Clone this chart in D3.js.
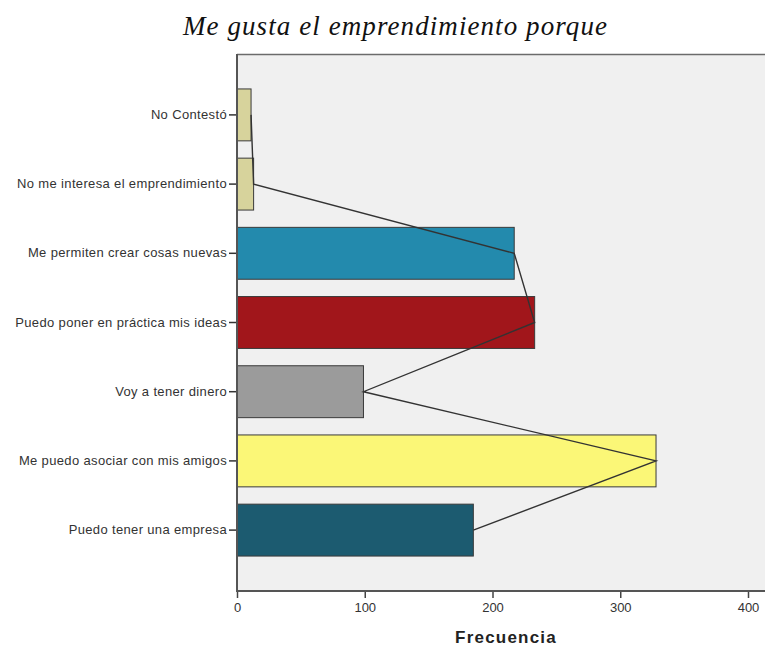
<!DOCTYPE html>
<html><head><meta charset="utf-8">
<script src="https://cdn.jsdelivr.net/npm/d3@7"></script>
<style>body{margin:0;background:#fff}svg{display:block}</style>
</head><body>
<script>
const categories = ["No Contestó","No me interesa el emprendimiento","Me permiten crear cosas nuevas","Puedo poner en práctica mis ideas","Voy a tener dinero","Me puedo asociar con mis amigos","Puedo tener una empresa"];
const values = [11, 13, 217, 233, 99, 328, 185];
const colors = ["#d7d39c","#d7d39c","#238aad","#a1161b","#9b9b9b","#fbf777","#1c5b70"];
const xTicks = [0,100,200,300,400];
const titleText = "Me gusta el emprendimiento porque";
const xLabel = "Frecuencia";

const W = 765, H = 647;
const L = 237, T = 54, B = 591, R = 772;
const svg = d3.select("body").append("svg").attr("width", W).attr("height", H);

const x = d3.scaleLinear().domain([0,400]).range([L, 748]);
const y = d3.scaleBand().domain(categories).range([T, B]).paddingInner(0.25).paddingOuter(0.505);

svg.append("rect").attr("x", L).attr("y", T).attr("width", R - L).attr("height", B - T).attr("fill", "#f0f0f0");
svg.append("line").attr("x1", L).attr("x2", R).attr("y1", T + 0.5).attr("y2", T + 0.5).attr("stroke", "#6b6b6b").attr("stroke-width", 1.5);

svg.selectAll("rect.bar").data(categories).join("rect").attr("class","bar")
  .attr("x", x(0)).attr("y", d => y(d))
  .attr("width", (d,i) => x(values[i]) - x(0)).attr("height", y.bandwidth())
  .attr("fill", (d,i) => colors[i]).attr("stroke", "#3a3a3a").attr("stroke-width", 1);

const line = d3.line().x(d => x(d[1])).y(d => y(d[0]) + y.bandwidth()/2);
svg.append("path").datum(categories.map((c,i)=>[c, values[i]])).attr("d", line)
  .attr("fill","none").attr("stroke","#333").attr("stroke-width",1.4);

// y axis
const yAxis = svg.append("g").attr("transform", `translate(${L},0)`)
  .call(d3.axisLeft(y).tickSize(8).tickPadding(2).tickSizeOuter(0));
yAxis.select(".domain").remove();
yAxis.selectAll(".tick line").attr("stroke","#333").attr("stroke-width",1.5);
yAxis.selectAll(".tick text").attr("font-family","Liberation Sans, Arial, sans-serif").attr("font-size",13).attr("letter-spacing",0.35).attr("fill","#333");
svg.append("line").attr("x1", L).attr("x2", L).attr("y1", T).attr("y2", B + 1).attr("stroke","#555").attr("stroke-width",2);

// x axis
const xAxis = svg.append("g").attr("transform", `translate(0,${B})`)
  .call(d3.axisBottom(x).tickValues(xTicks).tickSize(7).tickPadding(5).tickSizeOuter(0));
xAxis.select(".domain").remove();
xAxis.selectAll(".tick line").attr("stroke","#444").attr("stroke-width",1.5);
xAxis.selectAll(".tick text").attr("font-family","Liberation Sans, Arial, sans-serif").attr("font-size",13).attr("fill","#333");
svg.append("line").attr("x1", L - 1).attr("x2", R).attr("y1", B).attr("y2", B).attr("stroke","#555").attr("stroke-width",2);

svg.append("text").attr("x", 506).attr("y", 643).attr("text-anchor","middle")
  .attr("font-family","Liberation Sans, Arial, sans-serif").attr("font-weight","bold").attr("font-size",17).attr("fill","#222")
  .attr("letter-spacing", 1.2).text(xLabel);

svg.append("text").attr("x", 395).attr("y", 35).attr("text-anchor","middle")
  .attr("font-family","Liberation Serif, Times New Roman, serif").attr("font-style","italic").attr("font-size",27).attr("fill","#111")
  .attr("textLength", 424).attr("lengthAdjust","spacing")
  .text(titleText);
</script>
</body></html>
